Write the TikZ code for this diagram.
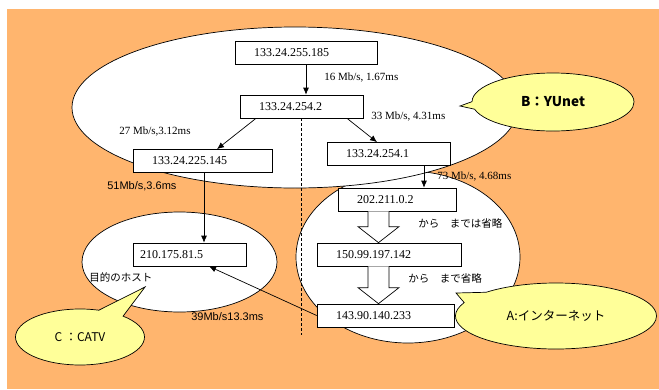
\documentclass[tikz,border=0pt]{standalone}
\usepackage{fontspec}
\setmainfont{Liberation Serif}
\setsansfont{Liberation Sans}
\newfontfamily\jfont{Noto Sans CJK JP}
\usetikzlibrary{shapes.callouts,arrows.meta,calc}
\definecolor{bgorange}{RGB}{255,181,110}
\definecolor{noteyellow}{RGB}{255,255,153}
\newcommand{\fatarrow}[2]{%
	\draw[fill=white] ($(#1)+(-10.5,0)$) -- ($(#2)+(-10.5,-16)$) -- ($(#2)+(-20.5,-16)$) -- (#2)
		-- ($(#2)+(20.5,-16)$) -- ($(#2)+(10.5,-16)$) -- ($(#1)+(10.5,0)$);}
\begin{document}
\begin{tikzpicture}[x=1pt,y=-1pt,line width=0.7pt,
			box/.style={draw, fill=white, minimum height=23pt, inner xsep=19pt, inner ysep=0pt, align=left, font=\fontsize{12}{12}\selectfont},
			lbl/.style={anchor=west, inner sep=0pt, font=\fontsize{11}{11}\selectfont},
			slbl/.style={anchor=west, inner sep=0pt, font=\sffamily\fontsize{11}{11}\selectfont},
			jlbl/.style={anchor=west, inner sep=0pt, font=\jfont\fontsize{10.5}{10.5}\selectfont},
			note/.style={ellipse callout, draw, fill=noteyellow, inner sep=0pt},
			arr/.style={-{Latex[length=7pt,width=6pt]}}]
			
			\useasboundingbox (0,0) rectangle (659,389);
			\fill[bgorange] (7,9) rectangle (659,389);
			
			% network areas
			\draw[fill=white] (408,257) ellipse [x radius=112pt, y radius=86pt];
			\draw[fill=white] (295,107.5) ellipse [x radius=223pt, y radius=80.5pt];
			\draw[fill=white] (179.5,262) ellipse [x radius=97.5pt, y radius=50pt];
			
			\node[box, text width=104pt] (b1) at (306,53) {133.24.255.185};
			\node[box, text width=85pt] (b2) at (301.5,106.5) {133.24.254.2};
			\node[box, text width=101pt] (b3) at (202.5,161) {133.24.225.145};
			\node[box, text width=85pt] (b4) at (388.5,154) {133.24.254.1};
			\node[box, text width=80pt] (b5) at (397,199.5) {202.211.0.2};
			\node[box, text width=106pt] (b6) at (389,254.5) {150.99.197.142};
			\node[box, text width=99pt] (b7) at (385.5,315.5) {143.90.140.233};
			\node[box, inner xsep=7pt, text width=99pt] (b8) at (189.5,254.5) {210.175.81.5};
			
			\coordinate (cut) at (302,335);
			\draw[dash pattern=on 3pt off 2pt, line width=0.5pt] (b2.south) -- (b2.south |- cut);
			
			\draw[arr] (b1.south) -- (b1.south |- b2.north);
			\draw[arr] ([xshift=-45.5pt]b2.south) -- ([xshift=14.5pt]b3.north);
			\draw[arr] ([xshift=45.5pt]b2.south) -- ([xshift=-11.5pt]b4.north);
			\draw[arr] ([xshift=35.5pt]b4.south) -- ([xshift=35.5pt]b4.south |- b5.north);
			\draw[arr] ([xshift=1.5pt]b3.south) -- ([xshift=1.5pt]b3.south |- b8.north);
			\draw[arr] (b7.west) -- ([xshift=19.5pt]b8.south);
			
			% skipped hops
			\coordinate (f1) at ([xshift=-18.5pt]b5.south);
			\coordinate (t1) at (f1 |- b6.north);
			\fatarrow{f1}{t1}
			\coordinate (f2) at ([xshift=-10.5pt]b6.south);
			\coordinate (t2) at (f2 |- b7.north);
			\fatarrow{f2}{t2}
			
			\node[lbl] (l1) at (324,78) {16 Mb/s, 1.67ms};
			\node[lbl] (l2) at (119,132) {27 Mb/s,3.12ms};
			\node[lbl] (l3) at (371,117) {33 Mb/s, 4.31ms};
			\node[lbl] (l4) at (437,177) {73 Mb/s, 4.68ms};
			\node[slbl] (l5) at (107,186) {51Mb/s,3.6ms};
			\node[slbl] (l6) at (191,317) {39Mb/s13.3ms};
			\node[jlbl] (host) at (89,277) {目的のホスト};
			\node[jlbl] (skip1) at (418,223) {から　までは省略};
			\node[jlbl] (skip2) at (408,278) {から　まで省略};
			
			\node[note, minimum width=162pt, minimum height=58pt, callout absolute pointer={(460,106)},
				font=\jfont\bfseries\fontsize{13.5}{13.5}\selectfont] (yunet) at (553,102) {B：YUnet};
			\node[note, minimum width=201pt, minimum height=66pt, callout pointer arc=22, callout absolute pointer={(456,293)},
				font=\jfont\fontsize{12.5}{12.5}\selectfont] (inet) at (556,316) {A:インターネット};
			\node[note, minimum width=129pt, minimum height=56pt, callout pointer arc=25, callout absolute pointer={(145,287)},
				font=\jfont\fontsize{12}{12}\selectfont] (catv) at (80,337) {C\ ：CATV};
			\end{tikzpicture}
\end{document}
